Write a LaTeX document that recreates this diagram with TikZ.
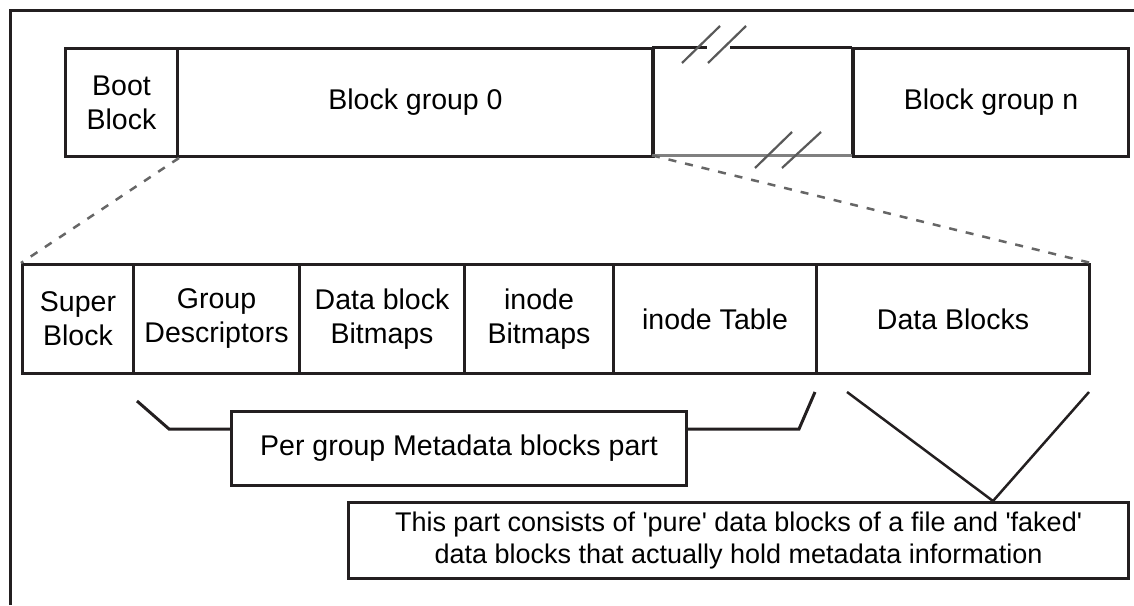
\documentclass[tikz,border=0pt]{standalone}
\usepackage{fontspec}
\setmainfont{Liberation Sans}[Ligatures=TeXOff]
\newcommand\dfont{\fontsize{28.5}{34}\selectfont}
\definecolor{ink}{RGB}{35,31,32}
\begin{document}
\begin{tikzpicture}[x=1pt,y=-1pt,
  box/.style={draw=ink, line width=3pt, inner sep=0pt, align=center, font=\dfont, anchor=north west},
  dashline/.style={draw=black!60, line width=2.5pt, dash pattern=on 8pt off 9pt},
  slash/.style={draw=black!65, line width=2.2pt},
  thin/.style={draw=ink, line width=3pt}]
\useasboundingbox (0,0) rectangle (1134,605);
% outer frame
\draw[thin] (10,605) -- (10,10) -- (1134,10);
% top row
\node[box, minimum width=112pt, minimum height=108pt] (boot) at (64,47) {Boot\\Block};
\node[box, minimum width=476pt, minimum height=108pt] (bg0) at (176,47) {Block group 0};
\node[inner sep=0pt, anchor=north west, minimum width=200pt, minimum height=108pt] (gap) at (652,47) {};
\node[box, minimum width=275pt, minimum height=108pt] (bgn) at (852,47) {Block group n};
% gap box edges
\coordinate (tg1) at (707,47);
\coordinate (tg2) at (730,47);
\draw[thin] (gap.north west) -- (gap.south west);
\draw[thin] (gap.north east) -- (gap.south east);
\draw[thin] (gap.north west) -- (tg1);
\draw[thin] (tg2) -- (gap.north east);
\draw[draw=black!50, line width=3pt] (gap.south west) -- (gap.south east);
\coordinate (s1a) at (682,63); \coordinate (s1b) at (720,26);
\coordinate (s2a) at (708,63); \coordinate (s2b) at (746,26);
\coordinate (s3a) at (755,168); \coordinate (s3b) at (792,132);
\coordinate (s4a) at (782,168); \coordinate (s4b) at (821,132);
\draw[slash] (s1a) -- (s1b);
\draw[slash] (s2a) -- (s2b);
\draw[slash] (s3a) -- (s3b);
\draw[slash] (s4a) -- (s4b);
% second row
\node[box, minimum width=111pt, minimum height=109pt] (sb) at (21,263) {Super\\Block};
\node[box, minimum width=166pt, minimum height=109pt] (gd) at (132,263) {Group\\Descriptors};
\node[box, minimum width=165pt, minimum height=109pt] (dbb) at (298,263) {Data block\\Bitmaps};
\node[box, minimum width=149pt, minimum height=109pt] (ib) at (463,263) {inode\\Bitmaps};
\node[box, minimum width=203pt, minimum height=109pt] (it) at (612,263) {inode Table};
\node[box, minimum width=273pt, minimum height=109pt] (db) at (815,263) {Data Blocks};
% dashed expansion lines
\draw[dashline] (boot.south east) -- (sb.north west);
\draw[dashline] (gap.south west) -- (db.north east);
% metadata bracket
\node[box, minimum width=455pt, minimum height=74pt] (meta) at (230,410) {Per group Metadata blocks part};
\coordinate (bl1) at (137,401);
\coordinate (bl2) at (169,429);
\coordinate (br2) at (799,429);
\coordinate (br1) at (815,392);
\draw[thin, line join=miter] (bl1) -- (bl2) -- (bl2 -| meta.west);
\draw[thin, line join=miter] (br2 -| meta.east) -- (br2) -- (br1);
% data blocks note
\node[box, minimum width=780pt, minimum height=76pt, font=\fontsize{27}{32}\selectfont] (note) at (347,501) {This part consists of 'pure' data blocks of a file and 'faked'\\data blocks that actually hold metadata information};
\coordinate (v1) at (847,392);
\coordinate (v2) at (1089,392);
\coordinate (vapex) at (993,501);
\draw[draw=ink, line width=2.5pt] (v1) -- (vapex) -- (v2);
\end{tikzpicture}
\end{document}
